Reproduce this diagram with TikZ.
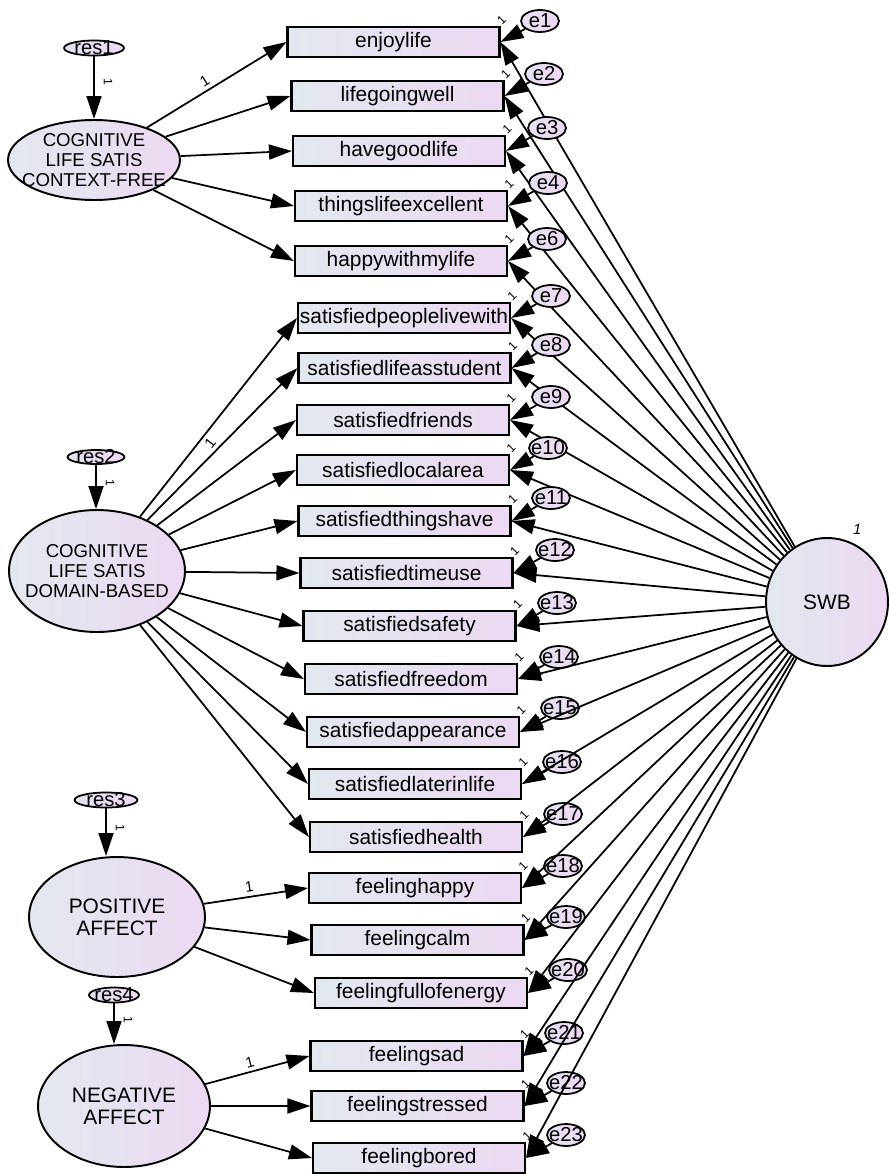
\documentclass[tikz,border=0pt]{standalone}
\usepackage{fontspec}
\setmainfont{Liberation Sans}
\usepackage{tikz}
\usetikzlibrary{arrows.meta, shapes.geometric, calc}

\definecolor{obsleft}{RGB}{226,232,238}
\definecolor{obsright}{RGB}{236,217,242}
\tikzset{
  obsvar/.style={draw, line width=1.2pt, left color=obsleft, right color=obsright,
    minimum width=4.24cm, minimum height=0.6cm, inner sep=0pt, font=\fontsize{11.9}{13}\selectfont},
  latvar/.style={ellipse, draw, line width=1.1pt, left color=obsleft, right color=obsright, inner sep=0pt},
  errvar/.style={ellipse, draw, line width=1pt, left color=obsleft!50!obsright, right color=obsright,
    minimum width=0.76cm, minimum height=0.44cm, inner sep=0pt},
  errtext/.style={inner sep=0pt, font=\fontsize{11.5}{12}\selectfont},
  lattext/.style={inner sep=0pt, align=center, font=\fontsize{10.6}{11.6}\selectfont},
  bigtext/.style={inner sep=0pt, align=center, font=\fontsize{11.9}{12.5}\selectfont},
  regpath/.style={line width=1pt, -{Triangle[length=0.46cm,width=0.3cm]}},
  onelbl/.style={inner sep=1pt, font=\fontsize{7}{7}\selectfont},
  loadlbl/.style={inner sep=2pt, font=\fontsize{8.5}{9}\selectfont},
}

\begin{document}
\begin{tikzpicture}[x=0.02cm, y=-0.02cm]
        \useasboundingbox (0,0) rectangle (889,1174);

        % latent variables
        \node[latvar, minimum width=3.44cm, minimum height=1.6cm,
          label={[lattext]center:COGNITIVE\\LIFE SATIS\\CONTEXT-FREE}] (cf) at (94,160) {};
        \node[latvar, minimum width=3.52cm, minimum height=2.44cm,
          label={[lattext]center:COGNITIVE\\LIFE SATIS\\DOMAIN-BASED}] (db) at (97,571) {};
        \node[latvar, minimum width=3.52cm, minimum height=2.4cm,
          label={[bigtext]center:POSITIVE\\AFFECT}] (pa) at (117,917) {};
        \node[latvar, minimum width=3.44cm, minimum height=2.44cm,
          label={[bigtext]center:NEGATIVE\\AFFECT}] (na) at (124,1106) {};
        \node[latvar, minimum width=2.44cm, minimum height=2.56cm, label={[bigtext]center:SWB},
          label={[font=\itshape\fontsize{8.5}{9}\selectfont]72:1}] (swb) at (827,602) {};

        % residuals
        \node[errvar, minimum width=1.2cm, minimum height=0.3cm, label={[errtext]center:res1}] (res1) at (94,48) {};
        \node[errvar, minimum width=1.14cm, minimum height=0.28cm, label={[errtext]center:res2}] (res2) at (96,457) {};
        \node[errvar, minimum width=1.26cm, minimum height=0.3cm, label={[errtext]center:res3}] (res3) at (106,800) {};
        \node[errvar, minimum width=1.0cm, minimum height=0.3cm, label={[errtext]center:res4}] (res4) at (114,995) {};
        \foreach \r/\l in {res1/cf, res2/db, res3/pa, res4/na}
          \draw[regpath] (\r.south) -- node[xshift=0.28cm, rotate=-90, onelbl, pos=0.4] {1} (\r.south |- \l.north);

        % observed variables with their errors
        \foreach \obs/\ox/\oy/\eid/\erx/\ery in {
            enjoylife/393.5/42/e1/540/21, lifegoingwell/397.5/96/e2/544/74,
            havegoodlife/399/151/e3/547/128, thingslifeexcellent/401/206/e4/548/183,
            happywithmylife/401/261/e6/547/239, satisfiedpeoplelivewith/404/318/e7/551/296,
            satisfiedlifeasstudent/404.5/368/e8/551/345, satisfiedfriends/403/420/e9/551/397,
            satisfiedlocalarea/403/470/e10/548/448, satisfiedthingshave/404.5/521/e11/551/498,
            satisfiedtimeuse/406.5/573/e12/555/550, satisfiedsafety/409.5/626/e13/557/603,
            satisfiedfreedom/411/679/e14/559/657, satisfiedappearance/413/732/e15/560/708,
            satisfiedlaterinlife/415/784/e16/562/762, satisfiedhealth/416/837/e17/563/814,
            feelinghappy/415/888/e18/563/866, feelingcalm/417.5/940/e19/566/917,
            feelingfullofenergy/421/993/e20/568/970, feelingsad/416.5/1056/e21/564/1033,
            feelingstressed/417.5/1106/e22/566/1083, feelingbored/419/1158/e23/566/1135} {
          \node[obsvar] (\obs) at (\ox,\oy) {\obs};
          \node[errvar, label={[errtext]center:\eid}] (\eid) at (\erx,\ery) {};
          \node[onelbl, rotate=45] at ([shift={(1,-6)}]\obs.north east) {1};
          \draw[regpath] (\eid) -- (\obs.east);
          \draw[regpath] (swb) -- (\obs.east);
        }

        % loadings
        \draw[regpath] (cf) -- node[loadlbl, sloped, above, pos=0.45] {1} (enjoylife.west);
        \foreach \b in {lifegoingwell, havegoodlife, thingslifeexcellent, happywithmylife}
          \draw[regpath] (cf) -- (\b.west);
        \draw[regpath] (db) -- node[loadlbl, sloped, below, pos=0.4] {1} (satisfiedpeoplelivewith.west);
        \foreach \b in {satisfiedlifeasstudent, satisfiedfriends, satisfiedlocalarea, satisfiedthingshave,
            satisfiedtimeuse, satisfiedsafety, satisfiedfreedom, satisfiedappearance,
            satisfiedlaterinlife, satisfiedhealth}
          \draw[regpath] (db) -- (\b.west);
        \draw[regpath] (pa) -- node[loadlbl, sloped, above, pos=0.45] {1} (feelinghappy.west);
        \foreach \b in {feelingcalm, feelingfullofenergy}
          \draw[regpath] (pa) -- (\b.west);
        \draw[regpath] (na) -- node[loadlbl, sloped, above, pos=0.45] {1} (feelingsad.west);
        \foreach \b in {feelingstressed, feelingbored}
          \draw[regpath] (na) -- (\b.west);
\end{tikzpicture}
\end{document}
